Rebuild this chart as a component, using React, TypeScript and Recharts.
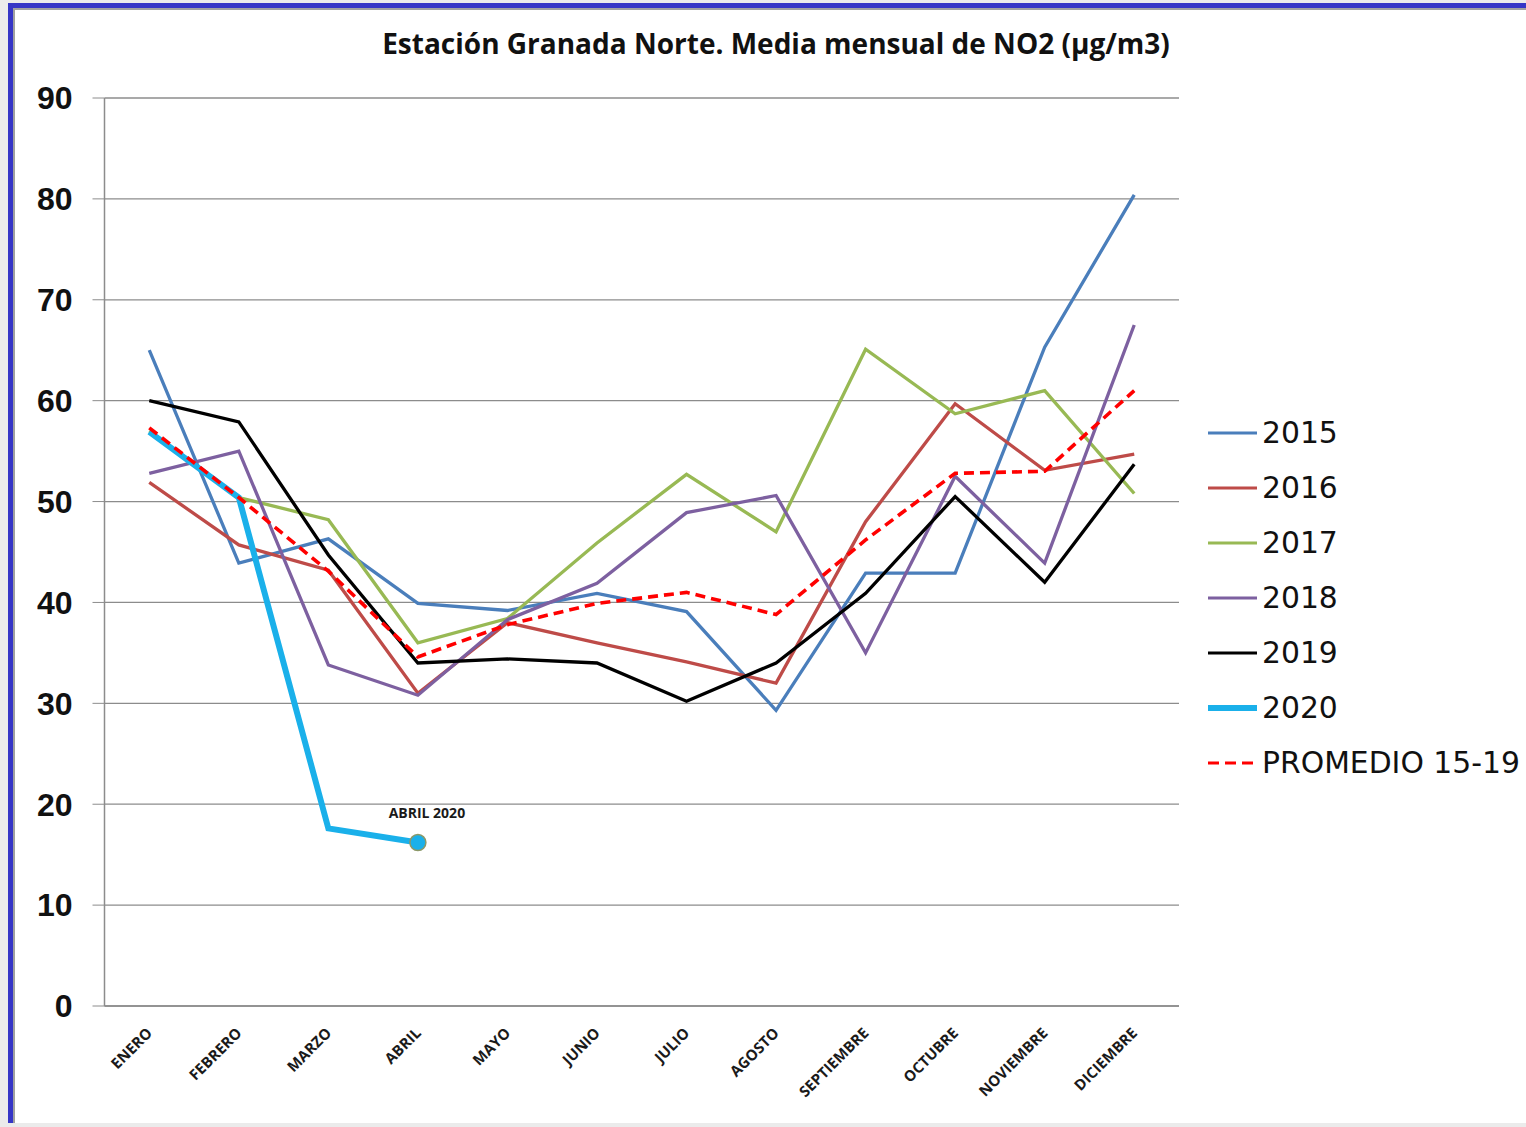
import React from 'react';
import { LineChart, Line, XAxis, YAxis, CartesianGrid } from 'recharts';

const months = ['ENERO', 'FEBRERO', 'MARZO', 'ABRIL', 'MAYO', 'JUNIO', 'JULIO', 'AGOSTO', 'SEPTIEMBRE', 'OCTUBRE', 'NOVIEMBRE', 'DICIEMBRE'];
const yTicks = [0, 10, 20, 30, 40, 50, 60, 70, 80, 90];
const boundaryTicks = [0, 1, 2, 3, 4, 5, 6, 7, 8, 9, 10, 11, 12];

const y2015 = [65.0, 43.9, 46.3, 39.9, 39.2, 40.9, 39.1, 29.3, 42.9, 42.9, 65.3, 80.4];
const y2016 = [51.9, 45.7, 43.2, 31.0, 38.0, 36.0, 34.1, 32.0, 48.0, 59.7, 53.1, 54.7];
const y2017 = [57.0, 50.4, 48.2, 36.0, 38.4, 45.9, 52.7, 47.0, 65.1, 58.7, 61.0, 50.8];
const y2018 = [52.8, 55.0, 33.8, 30.8, 38.3, 41.9, 48.9, 50.6, 35.0, 52.5, 43.9, 67.5];
const y2019 = [60.0, 57.9, 44.7, 34.0, 34.4, 34.0, 30.2, 34.0, 40.9, 50.5, 42.0, 53.7];
const y2020 = [56.9, 50.4, 17.6, 16.2, null, null, null, null, null, null, null, null];
const promedio = [57.3, 50.4, 43.1, 34.6, 37.8, 39.9, 41.0, 38.8, 46.2, 52.8, 53.0, 61.0];

const lastLabel = 'ABRIL 2020';

const series = [
  { key: 's2015', name: '2015', color: '#4a7ebb', width: 3.3, dash: undefined },
  { key: 's2016', name: '2016', color: '#be4b48', width: 3.3, dash: undefined },
  { key: 's2017', name: '2017', color: '#98b954', width: 3.3, dash: undefined },
  { key: 's2018', name: '2018', color: '#7d60a0', width: 3.3, dash: undefined },
  { key: 's2019', name: '2019', color: '#000000', width: 3.3, dash: undefined },
  { key: 's2020', name: '2020', color: '#1ab0ea', width: 6, dash: undefined },
  { key: 'prom', name: 'PROMEDIO 15-19', color: '#ff0000', width: 3.6, dash: '10 6' },
];

const data = months.map((m, i) => ({
  month: m,
  s2015: y2015[i],
  s2016: y2016[i],
  s2017: y2017[i],
  s2018: y2018[i],
  s2019: y2019[i],
  s2020: y2020[i],
  prom: promedio[i],
}));

const lastIdx2020 = y2020.filter((v) => v !== null).length - 1;

const MonthTick = (props: any) => {
  const { x, y, payload } = props;
  return (
    <g transform={`translate(${x + 4},${y + 20})`}>
      <text textAnchor="end" transform="rotate(-45)" fontSize={15} fontWeight={700} fontFamily="'Open Sans'" fill="#1a1a1a">
        {payload.value}
      </text>
    </g>
  );
};

const Dot2020 = (props: any) => {
  const { cx, cy, index } = props;
  if (index !== lastIdx2020 || cx == null) return <g key={`d${index}`} />;
  return (
    <g key={`d${index}`}>
      <circle cx={cx} cy={cy} r={8} fill="#1ab0ea" stroke="#8c9868" strokeWidth={1.5} />
      <text x={cx + 9} y={cy - 25} textAnchor="middle" fontSize={14} fontWeight={700} fontFamily="'Open Sans'" fill="#1a1a1a">
        {lastLabel}
      </text>
    </g>
  );
};

const App: React.FC = () => {
  return (
    <div style={{ position: 'absolute', left: 0, top: 0, width: 1526, height: 1127, background: '#ebebeb', overflow: 'hidden' }}>
      <div
        style={{
          position: 'absolute',
          left: 8,
          top: 3,
          width: 1530,
          height: 1120,
          boxSizing: 'border-box',
          borderLeft: '5px solid #3535c6',
          borderTop: '5px solid #3535c6',
          background: '#fff',
        }}
      >
        <div style={{ position: 'absolute', left: 0, top: 0, right: 0, bottom: 0, borderLeft: '2px solid #a0a0a0', borderTop: '2px solid #a0a0a0' }} />
      </div>

      <div
        style={{
          position: 'absolute',
          left: 0,
          top: 24,
          width: 1552,
          textAlign: 'center',
          fontFamily: "'Open Sans'",
          fontWeight: 700,
          fontSize: 28,
          color: '#111',
          whiteSpace: 'nowrap',
        }}
      >
        Estación Granada Norte. Media mensual de NO2 (µg/m3)
      </div>

      <div style={{ position: 'absolute', left: 0, top: 0 }}>
        <LineChart width={1526} height={1127} data={data} margin={{ top: 98, right: 347, bottom: 41, left: 14.5 }}>
          <CartesianGrid vertical={false} stroke="#8c8c8c" strokeWidth={1.3} />
          <XAxis
            xAxisId="marks"
            type="number"
            domain={[0, 12]}
            ticks={boundaryTicks}
            tick={false}
            tickSize={7}
            height={0}
            axisLine={false}
            tickLine={{ stroke: '#8c8c8c', strokeWidth: 1.5 }}
          />
          <XAxis
            dataKey="month"
            scale="band"
            interval={0}
            height={80}
            tickLine={false}
            axisLine={{ stroke: '#8c8c8c', strokeWidth: 1.5 }}
            tick={<MonthTick />}
          />
          <YAxis
            domain={[0, 90]}
            ticks={yTicks}
            width={90}
            tickSize={12}
            tickMargin={20}
            axisLine={{ stroke: '#8c8c8c', strokeWidth: 1.5 }}
            tickLine={{ stroke: '#8c8c8c' }}
            tick={{ fontSize: 32, fontWeight: 700, fontFamily: "'Liberation Sans'", fill: '#111' }}
          />
          {series.map((s) => (
            <Line
              key={s.key}
              dataKey={s.key}
              name={s.name}
              type="linear"
              stroke={s.color}
              strokeWidth={s.width}
              strokeDasharray={s.dash}
              dot={s.key === 's2020' ? <Dot2020 /> : false}
              activeDot={false}
              connectNulls={false}
              isAnimationActive={false}
            />
          ))}
        </LineChart>
      </div>

      <div style={{ position: 'absolute', left: 1207, top: 405 }}>
        {series.map((s) => (
          <div key={s.key} style={{ display: 'flex', alignItems: 'center', height: 55 }}>
            <svg width={51} height={20}>
              <line x1={1} y1={10} x2={50} y2={10} stroke={s.color} strokeWidth={s.key === 's2020' ? 6 : 3} strokeDasharray={s.dash ? '11 6' : undefined} />
            </svg>
            <span style={{ marginLeft: 4, fontFamily: "'DejaVu Sans'", fontSize: 29.8, color: '#111', lineHeight: '55px' }}>{s.name}</span>
          </div>
        ))}
      </div>
    </div>
  );
};

export default App;
